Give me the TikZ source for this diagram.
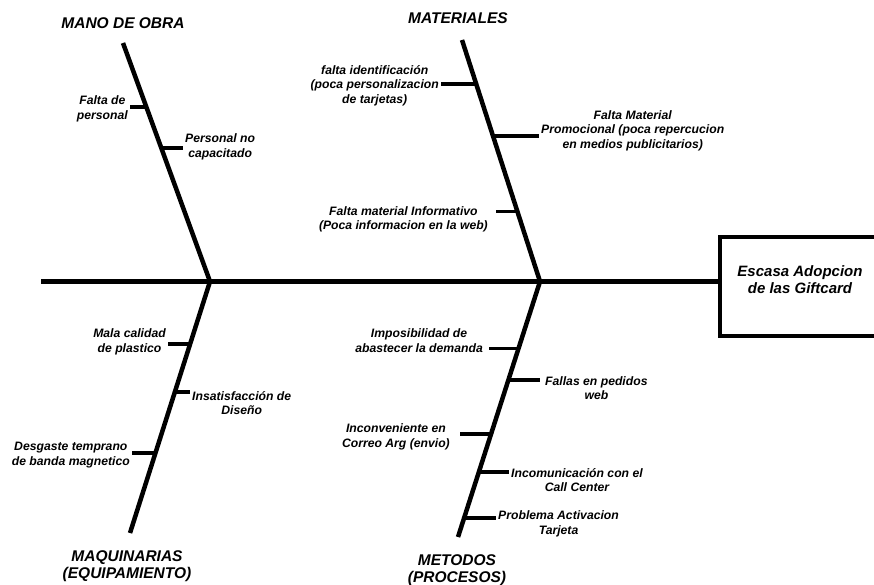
\documentclass[tikz,border=0pt]{standalone}
\usepackage{fontspec}
\setmainfont{Liberation Sans}
\usepackage{tikz}
\tikzset{font={\fontsize{12pt}{14.5}\selectfont}}
\usetikzlibrary{positioning,calc}

\begin{document}
\begin{tikzpicture}[x=1pt,y=-1pt,
    bone/.style={line width=4.5pt},
    rib line/.style={line width=3.8pt},
    cause node/.style={inner sep=2pt,align=center,font=\fontsize{12.2pt}{14.5}\selectfont\bfseries\itshape},
    cat node/.style={inner sep=0pt,align=center,font=\fontsize{15.5pt}{17.5}\selectfont\bfseries\itshape},
    effect node/.style={draw,line width=4pt,minimum width=160pt,minimum height=99pt,align=center,
                        text depth=13pt,font=\fontsize{15pt}{17}\selectfont\bfseries\itshape}]
  \useasboundingbox (0,0) rectangle (874,585);

  % espina y efecto
  \node[effect node] (efecto) at (800,286.5) {Escasa Adopcion\\de las Giftcard};
  \coordinate (cola) at (41,281.5);
  \coordinate (j1) at (210,281.5);
  \coordinate (j2) at (540,281.5);
  \draw[bone] (cola) -- (cola -| efecto.west);

  % espinas principales
  \coordinate (mo-top) at (123,43);
  \coordinate (ma-top) at (462,40);
  \coordinate (mq-bot) at (130,533);
  \coordinate (me-bot) at (458,537);
  \draw[bone] (mo-top) -- (j1) -- (mq-bot);
  \draw[bone] (ma-top) -- (j2) -- (me-bot);

  \node[cat node] (mano) at (123,23) {MANO DE OBRA};
  \node[cat node] (mat) at (458,18) {MATERIALES};
  \node[cat node] (maq) at (127,566) {MAQUINARIAS\\(EQUIPAMIENTO)};
  \node[cat node] (met) at (457,570) {METODOS\\(PROCESOS)};

  % puntos sobre las espinas
  \path (mo-top) -- (j1) coordinate[pos=0.268] (mo1) coordinate[pos=0.439] (mo2);
  \path (ma-top) -- (j2) coordinate[pos=0.183] (ma1) coordinate[pos=0.398] (ma2)
                         coordinate[pos=0.71] (ma3);
  \path (j1) -- (mq-bot) coordinate[pos=0.247] (mq1) coordinate[pos=0.438] (mq2)
                         coordinate[pos=0.681] (mq3);
  \path (j2) -- (me-bot) coordinate[pos=0.262] (me1) coordinate[pos=0.387] (me2)
                         coordinate[pos=0.598] (me3) coordinate[pos=0.746] (me4)
                         coordinate[pos=0.926] (me5);

  % causas
  \node[cause node,anchor=east] (c-mo1) at (130,109) {Falta de\\personal};
  \node[cause node,anchor=west] (c-mo2) at (183,147) {Personal no\\capacitado};
  \node[cause node,anchor=east] (c-ma1) at (441,85.5) {falta identificación\\(poca personalizacion\\de tarjetas)};
  \node[cause node,anchor=west] (c-ma2) at (539,130.5) {Falta Material\\Promocional (poca repercucion\\en medios publicitarios)};
  \node[cause node,anchor=east] (c-ma3) at (490,219.5) {Falta material Informativo\\(Poca informacion en la web)};
  \node[cause node,anchor=east] (c-mq1) at (168,342) {Mala calidad\\de plastico};
  \node[cause node,anchor=west] (c-mq2) at (190,403) {Insatisfacción de\\Diseño};
  \node[cause node,anchor=east] (c-mq3) at (132,455) {Desgaste temprano\\de banda magnetico};
  \node[cause node,anchor=east] (c-me1) at (485,340.5) {Imposibilidad de\\abastecer la demanda};
  \node[cause node,anchor=west] (c-me2) at (543,388) {Fallas en pedidos\\web};
  \node[cause node,anchor=east] (c-me3) at (452,437) {Inconveniente en\\Correo Arg (envio)};
  \node[cause node,anchor=west] (c-me4) at (509,480) {Incomunicación con el\\Call Center};
  \node[cause node,anchor=west] (c-me5) at (496,524) {Problema Activacion\\Tarjeta};

  \draw[rib line] (mo1) -- (mo1 -| c-mo1.east);
  \draw[rib line] (mo2) -- (mo2 -| c-mo2.west);
  \draw[rib line] (ma1) -- (ma1 -| c-ma1.east);
  \draw[rib line] (ma2) -- (ma2 -| c-ma2.west);
  \draw[rib line,shorten >=6pt] (ma3) -- (ma3 -| c-ma3.east);
  \draw[rib line] (mq1) -- (mq1 -| c-mq1.east);
  \draw[rib line] (mq2) -- (mq2 -| c-mq2.west);
  \draw[rib line] (mq3) -- (mq3 -| c-mq3.east);
  \draw[rib line,shorten >=4pt] (me1) -- (me1 -| c-me1.east);
  \draw[rib line,shorten >=3pt] (me2) -- (me2 -| c-me2.west);
  \draw[rib line,shorten >=8pt] (me3) -- (me3 -| c-me3.east);
  \draw[rib line] (me4) -- (me4 -| c-me4.west);
  \draw[rib line] (me5) -- (me5 -| c-me5.west);
\end{tikzpicture}
\end{document}
